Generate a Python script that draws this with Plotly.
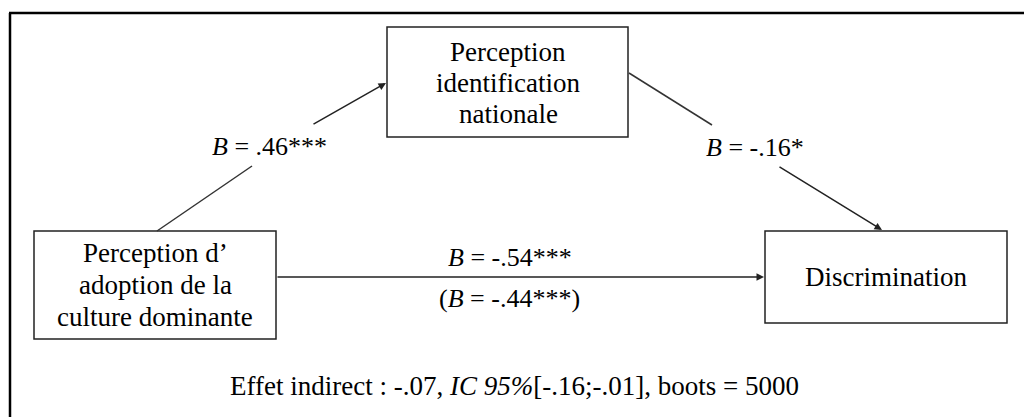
import plotly.graph_objects as go

# ---- data ----
node_lines = [["Perception d’", "adoption de la", "culture dominante"],
              ["Perception", "identification", "nationale"],
              ["Discrimination"]]
coef_a = ".46***"
coef_b = "-.16*"
coef_c = "-.54***"
coef_c_prime = "-.44***"
indirect_effect = "-.07"
ci_low, ci_high = "-.16", "-.01"
boots = 5000

FONT = "Liberation Serif"
W, H = 1024, 417

fig = go.Figure()
fig.add_trace(go.Scatter(x=[0, W], y=[0, H], mode="markers",
                         marker=dict(opacity=0), hoverinfo="skip", showlegend=False))

shapes = []
# outer frame (top and left lines)
shapes.append(dict(type="line", x0=9, y0=13, x1=W + 5, y1=13, line=dict(color="black", width=2.5)))
shapes.append(dict(type="line", x0=10, y0=13, x1=10, y1=H + 5, line=dict(color="black", width=2.5)))

# boxes
boxes = [(34, 231, 276, 339), (387, 27, 628, 137), (765, 231, 1007, 323)]
for x0, y0, x1, y1 in boxes:
    shapes.append(dict(type="rect", x0=x0, y0=y0, x1=x1, y1=y1,
                       line=dict(color="#222", width=1.5), fillcolor="rgba(0,0,0,0)"))

# path line segments (lower parts)
shapes.append(dict(type="line", x0=157, y0=231, x1=252, y1=166, line=dict(color="#333", width=1.5)))
shapes.append(dict(type="line", x0=629, y0=73, x1=712, y1=125, line=dict(color="#333", width=1.5)))

annotations = []
def arrow(tx, ty, sx, sy):
    annotations.append(dict(x=tx, y=ty, ax=sx, ay=sy, xref="x", yref="y", axref="x", ayref="y",
                            text="", showarrow=True, arrowhead=2, arrowsize=1.0,
                            arrowwidth=1.5, arrowcolor="#222", standoff=0))
arrow(386, 83, 312, 125)
arrow(882, 230, 778, 166)
arrow(764, 277, 276, 277)

# node labels (one annotation per line to control spacing)
centers = [(155, [253, 285, 317]), (508, [52, 83, 114]), (886, [277])]
for lines, (cx, ys) in zip(node_lines, centers):
    for ln, cy in zip(lines, ys):
        annotations.append(dict(x=cx, y=cy, xref="x", yref="y", text=ln, showarrow=False,
                                font=dict(family=FONT, size=27, color="black"),
                                xanchor="center", yanchor="middle"))

# path labels
labels = [(269, 146, f"<i>B</i> = {coef_a}", 26),
          (755, 147, f"<i>B</i> = {coef_b}", 26),
          (510, 257, f"<i>B</i> = {coef_c}", 26),
          (509, 298, f"(<i>B</i> = {coef_c_prime})", 26),
          (514, 386, f"Effet indirect : {indirect_effect}, <i>IC 95%</i>[{ci_low};{ci_high}], boots = {boots}", 27)]
for cx, cy, t, fs in labels:
    annotations.append(dict(x=cx, y=cy, xref="x", yref="y", text=t, showarrow=False,
                            font=dict(family=FONT, size=fs, color="black"),
                            xanchor="center", yanchor="middle"))

fig.update_layout(
    width=W, height=H, margin=dict(l=0, r=0, t=0, b=0),
    paper_bgcolor="white", plot_bgcolor="white",
    xaxis=dict(range=[0, W], visible=False, fixedrange=True),
    yaxis=dict(range=[H, 0], visible=False, fixedrange=True),
    shapes=shapes, annotations=annotations, showlegend=False,
    hovermode=False,
)
fig.write_html("out.html", config={"displayModeBar": False, "staticPlot": True},
               post_script="document.body.style.margin='0px';document.body.style.overflow='hidden';")
